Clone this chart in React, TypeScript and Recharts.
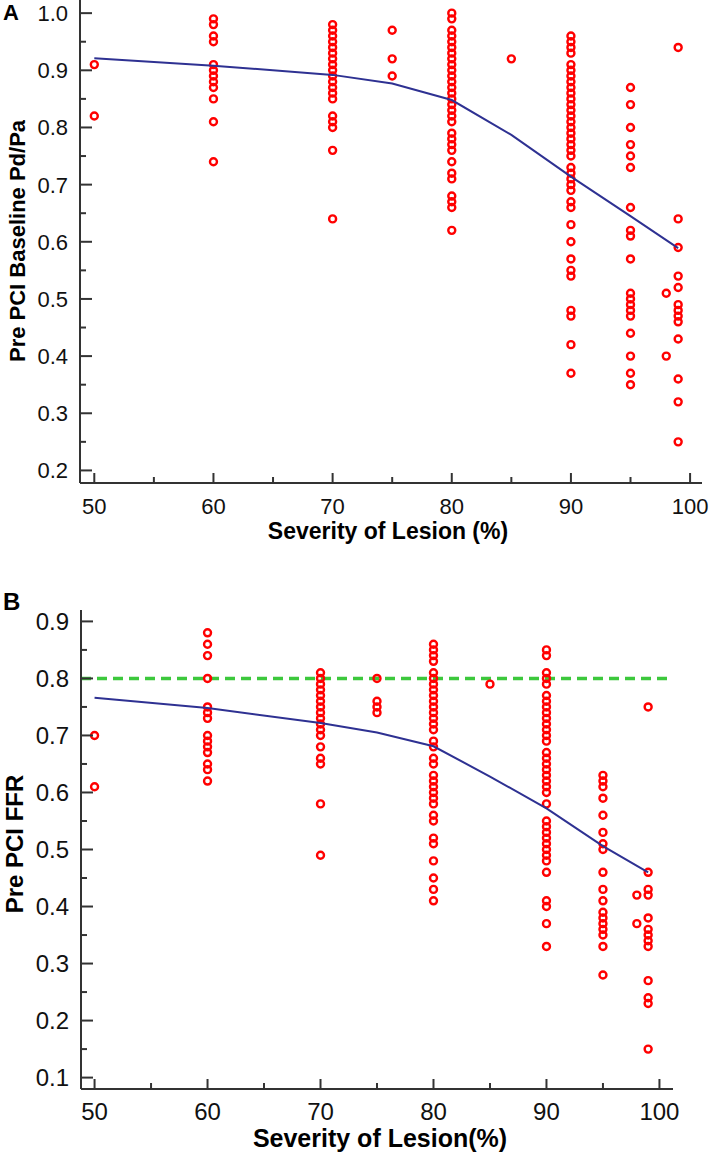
import { ScatterChart, Scatter, XAxis, YAxis, ReferenceLine } from 'recharts'

// lesion severity (%) columns and the measured values in each column
const severityCols = [50, 60, 70, 75, 80, 85, 90, 95, 98, 99]

const pdpaValues: number[][] = [
  [0.91, 0.82],
  [0.99, 0.98, 0.96, 0.95, 0.91, 0.9, 0.89, 0.88, 0.87, 0.85, 0.81, 0.74],
  [0.98, 0.97, 0.96, 0.95, 0.94, 0.93, 0.92, 0.91, 0.9, 0.89, 0.88, 0.87, 0.86, 0.85, 0.82, 0.81, 0.8, 0.76, 0.64],
  [0.97, 0.92, 0.89],
  [1.0, 0.99, 0.97, 0.96, 0.95, 0.94, 0.93, 0.92, 0.91, 0.9, 0.89, 0.88, 0.87, 0.86, 0.85, 0.84, 0.83, 0.82, 0.81,
    0.79, 0.78, 0.77, 0.76, 0.74, 0.72, 0.71, 0.68, 0.67, 0.66, 0.62],
  [0.92],
  [0.96, 0.95, 0.94, 0.93, 0.91, 0.9, 0.89, 0.88, 0.87, 0.86, 0.85, 0.84, 0.83, 0.82, 0.81, 0.8, 0.79, 0.78, 0.77,
    0.76, 0.75, 0.73, 0.72, 0.71, 0.7, 0.69, 0.67, 0.66, 0.63, 0.6, 0.57, 0.55, 0.54, 0.48, 0.47, 0.42, 0.37],
  [0.87, 0.84, 0.8, 0.77, 0.75, 0.73, 0.66, 0.62, 0.61, 0.57, 0.51, 0.5, 0.49, 0.48, 0.47, 0.44, 0.4, 0.37, 0.35],
  [0.51, 0.4],
  [0.94, 0.64, 0.59, 0.54, 0.52, 0.49, 0.48, 0.47, 0.46, 0.43, 0.36, 0.32, 0.25],
]

const ffrValues: number[][] = [
  [0.7, 0.61],
  [0.88, 0.86, 0.84, 0.8, 0.75, 0.74, 0.73, 0.7, 0.69, 0.68, 0.67, 0.65, 0.64, 0.62],
  [0.81, 0.8, 0.79, 0.78, 0.77, 0.76, 0.75, 0.74, 0.73, 0.72, 0.71, 0.7, 0.68, 0.66, 0.65, 0.58, 0.49],
  [0.8, 0.76, 0.75, 0.74],
  [0.86, 0.85, 0.84, 0.83, 0.81, 0.8, 0.79, 0.78, 0.77, 0.76, 0.75, 0.74, 0.73, 0.72, 0.71, 0.69, 0.68, 0.66, 0.65,
    0.63, 0.62, 0.61, 0.6, 0.59, 0.58, 0.56, 0.55, 0.52, 0.51, 0.48, 0.45, 0.43, 0.41],
  [0.79],
  [0.85, 0.84, 0.81, 0.8, 0.79, 0.77, 0.76, 0.75, 0.74, 0.73, 0.72, 0.71, 0.7, 0.69, 0.67, 0.66, 0.65, 0.64, 0.63,
    0.62, 0.61, 0.6, 0.58, 0.55, 0.54, 0.53, 0.52, 0.51, 0.5, 0.49, 0.48, 0.46, 0.41, 0.4, 0.37, 0.33],
  [0.63, 0.62, 0.61, 0.59, 0.56, 0.53, 0.51, 0.5, 0.46, 0.43, 0.41, 0.39, 0.38, 0.37, 0.36, 0.35, 0.33, 0.28],
  [0.42, 0.37],
  [0.75, 0.46, 0.43, 0.42, 0.38, 0.36, 0.35, 0.34, 0.33, 0.27, 0.24, 0.23, 0.15],
]

// smoothed trend lines
const fitX = [50, 60, 70, 75, 80, 85, 90, 95, 99]
const pdpaFit = [0.921, 0.908, 0.892, 0.877, 0.848, 0.787, 0.714, 0.645, 0.589]
const ffrFit = [0.766, 0.748, 0.722, 0.705, 0.681, 0.628, 0.572, 0.506, 0.46]

const ffrCutoff = 0.8

// ticks (every other one is labelled)
const xTicks = [50, 55, 60, 65, 70, 75, 80, 85, 90, 95, 100]
const pdpaTicks = [0.2, 0.25, 0.3, 0.35, 0.4, 0.45, 0.5, 0.55, 0.6, 0.65, 0.7, 0.75, 0.8, 0.85, 0.9, 0.95, 1.0]
const ffrTicks = [0.1, 0.15, 0.2, 0.25, 0.3, 0.35, 0.4, 0.45, 0.5, 0.55, 0.6, 0.65, 0.7, 0.75, 0.8, 0.85, 0.9]

const FONT = '"Liberation Sans", Arial, sans-serif'
const AXIS = '#333'

const toPoints = (vals: number[][]) =>
  severityCols.flatMap((c, i) => vals[i].map(v => ({ x: c, y: v })))
const toLine = (ys: number[]) => fitX.map((x, i) => ({ x, y: ys[i] }))

const Ring = (p: any) => (
  <circle cx={p.cx} cy={p.cy} r={3.5} fill="none" stroke="#f00" strokeWidth={2.4} />
)
const NoDot = () => <g />

function YTick({ x, y, payload, index, size }: any) {
  const major = index % 2 === 0
  return (
    <g>
      <line x1={x} x2={x + (major ? 12 : 6)} y1={y} y2={y} stroke={AXIS} strokeWidth={2} />
      {major && (
        <text x={x - 12} y={y} dy="0.36em" textAnchor="end" fontSize={size} fontFamily={FONT} fill="#111">
          {payload.value.toFixed(1)}
        </text>
      )}
    </g>
  )
}

function XTick({ x, y, payload, index, size, gap }: any) {
  const major = index % 2 === 0
  return (
    <g>
      <line x1={x} x2={x} y1={y} y2={y - (major ? 10 : 6)} stroke={AXIS} strokeWidth={2} />
      {major && (
        <text x={x} y={y + gap} textAnchor="middle" fontSize={size} fontFamily={FONT} fill="#111">
          {payload.value}
        </text>
      )}
    </g>
  )
}

interface PanelProps {
  letter: string
  yTitle: string
  xTitle: string
  points: { x: number; y: number }[]
  fit: { x: number; y: number }[]
  yTicks: number[]
  yDomain: [number, number]
  xDomain: [number, number]
  width: number
  height: number
  margin: { top: number; right: number; bottom: number; left: number }
  yWidth: number
  xHeight: number
  tickSize: number
  titleSize: number
  letterPos: [number, number]
  yTitlePos: [number, number]
  xTitlePos: [number, number]
  cutoff?: number
}

function Panel(p: PanelProps) {
  return (
    <ScatterChart width={p.width} height={p.height} margin={p.margin}>
      <XAxis
        type="number"
        dataKey="x"
        domain={p.xDomain}
        ticks={xTicks}
        interval={0}
        allowDataOverflow
        height={p.xHeight}
        tickSize={0}
        tickMargin={0}
        tickLine={false}
        axisLine={{ stroke: AXIS, strokeWidth: 2 }}
        tick={<XTick size={p.tickSize} gap={31} />}
        label={{
          content: () => (
            <text x={p.xTitlePos[0]} y={p.xTitlePos[1]} textAnchor="middle" fontSize={p.titleSize}
              fontWeight="bold" fontFamily={FONT} fill="#000">
              {p.xTitle}
            </text>
          ),
        }}
      />
      <YAxis
        type="number"
        dataKey="y"
        domain={p.yDomain}
        ticks={p.yTicks}
        interval={0}
        allowDataOverflow
        width={p.yWidth}
        tickSize={0}
        tickMargin={0}
        tickLine={false}
        axisLine={{ stroke: AXIS, strokeWidth: 2 }}
        tick={<YTick size={p.tickSize} />}
        label={{
          content: () => (
            <g>
              <text x={p.letterPos[0]} y={p.letterPos[1]} fontSize={p.titleSize - 1} fontWeight="bold"
                fontFamily={FONT} fill="#000">
                {p.letter}
              </text>
              <text transform={`translate(${p.yTitlePos[0]},${p.yTitlePos[1]}) rotate(-90)`} textAnchor="middle"
                fontSize={p.titleSize - 1} fontWeight="bold" fontFamily={FONT} fill="#000">
                {p.yTitle}
              </text>
            </g>
          ),
        }}
      />
      {p.cutoff !== undefined && (
        <ReferenceLine y={p.cutoff} stroke="#3cc83c" strokeWidth={3.5} strokeDasharray="10 6" />
      )}
      <Scatter data={p.points} shape={Ring} isAnimationActive={false} />
      <Scatter data={p.fit} shape={NoDot} line={{ stroke: '#2e3192', strokeWidth: 2 }} lineType="joint"
        isAnimationActive={false} />
    </ScatterChart>
  )
}

export default function App() {
  return (
    <div style={{ position: 'absolute', left: 0, top: 0, width: 709, height: 1153, background: '#fff' }}>
      <div style={{ position: 'absolute', left: 0, top: 0 }}>
        <Panel
          letter="A"
          yTitle="Pre PCI Baseline Pd/Pa"
          xTitle="Severity of Lesion (%)"
          points={toPoints(pdpaValues)}
          fit={toLine(pdpaFit)}
          yTicks={pdpaTicks}
          yDomain={[0.178, 1.023]}
          xDomain={[48.8, 101]}
          width={709}
          height={560}
          margin={{ top: 0, right: 7, bottom: 0, left: 0 }}
          yWidth={80}
          xHeight={77}
          tickSize={22}
          titleSize={23}
          letterPos={[3, 20]}
          yTitlePos={[25, 241]}
          xTitlePos={[388, 539]}
        />
      </div>
      <div style={{ position: 'absolute', left: 0, top: 580 }}>
        <Panel
          letter="B"
          yTitle="Pre PCI FFR"
          xTitle="Severity of Lesion(%)"
          points={toPoints(ffrValues)}
          fit={toLine(ffrFit)}
          yTicks={ffrTicks}
          yDomain={[0.08, 0.92]}
          xDomain={[48.8, 101.2]}
          width={709}
          height={573}
          margin={{ top: 30, right: 36, bottom: 0, left: 0 }}
          yWidth={81}
          xHeight={64}
          tickSize={24}
          titleSize={25}
          letterPos={[3, 30]}
          yTitlePos={[23, 264]}
          xTitlePos={[380, 567]}
          cutoff={ffrCutoff}
        />
      </div>
    </div>
  )
}
